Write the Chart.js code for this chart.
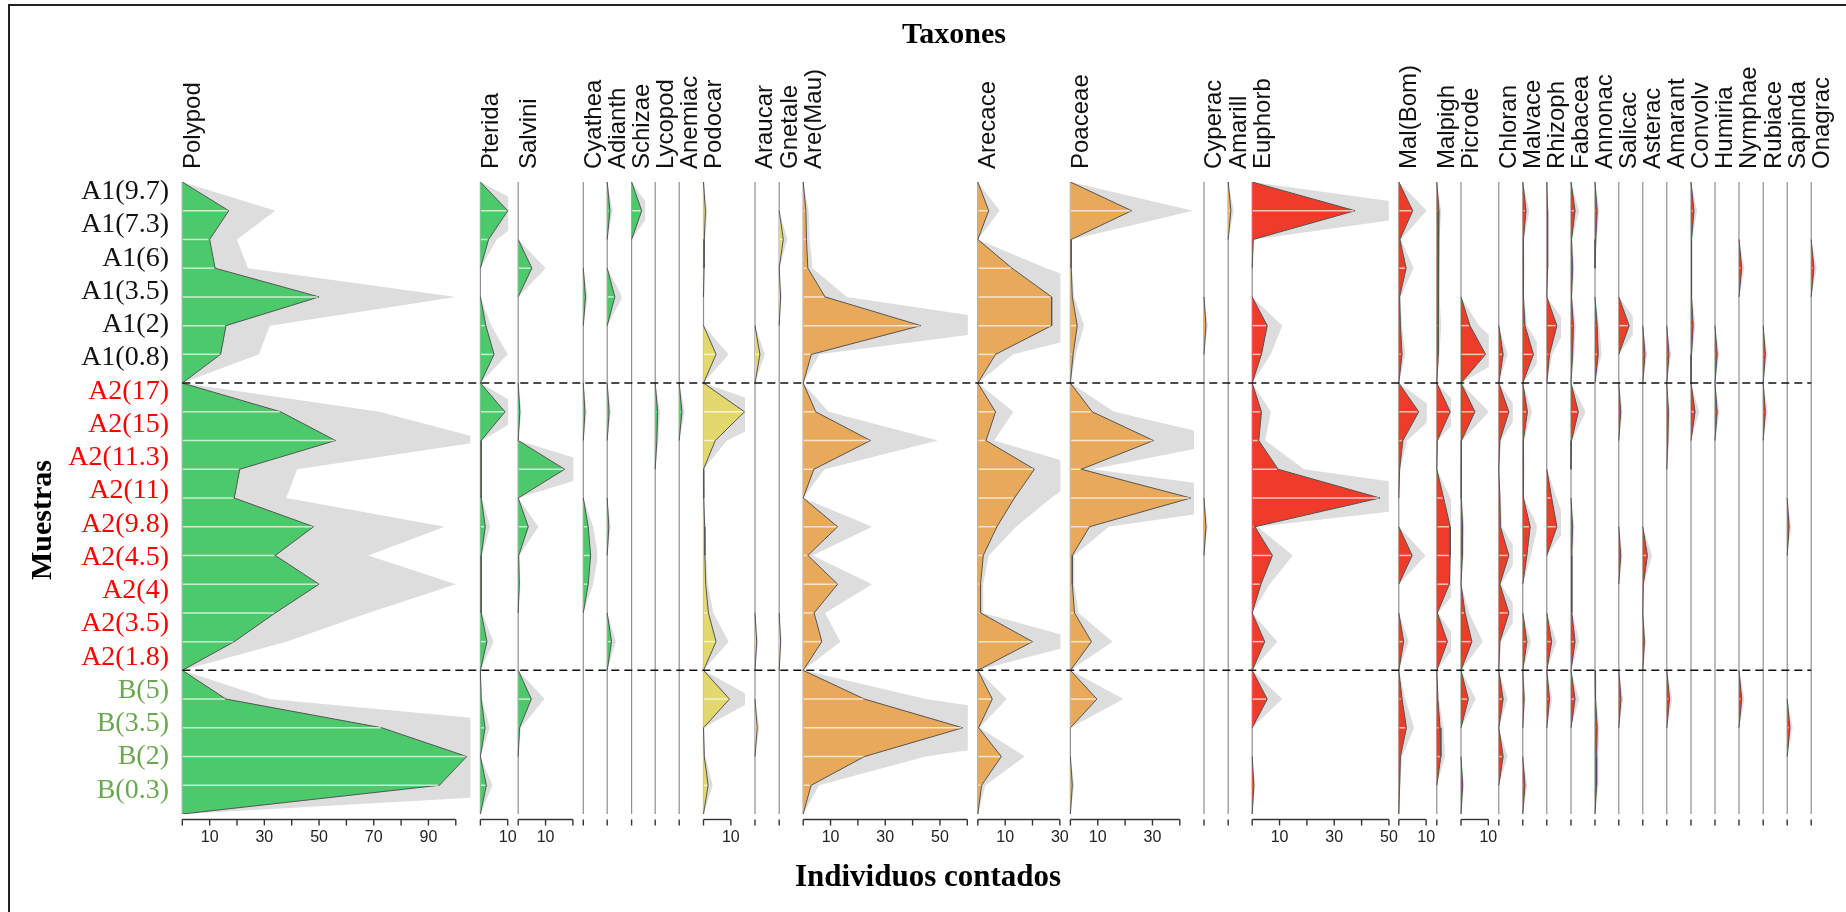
<!DOCTYPE html>
<html>
<head>
<meta charset="utf-8">
<script src="https://cdn.jsdelivr.net/npm/chart.js@4.4.1/dist/chart.umd.min.js"></script>
<style>
html,body{margin:0;padding:0;background:#ffffff;}
canvas{display:block;}
</style>
</head>
<body>
<canvas id="chart" width="1846" height="912"></canvas>
<script>
// ---------------- DATA ----------------
const samples = ['A1(9.7)','A1(7.3)','A1(6)','A1(3.5)','A1(2)','A1(0.8)',
  'A2(17)','A2(15)','A2(11.3)','A2(11)','A2(9.8)','A2(4.5)','A2(4)','A2(3.5)','A2(1.8)',
  'B(5)','B(3.5)','B(2)','B(0.3)'];
const sampleGroup = [0,0,0,0,0,0, 1,1,1,1,1,1,1,1,1, 2,2,2,2];

const taxa = ['Polypod','Pterida','Salvini','Cyathea','Adianth','Schizae','Lycopod','Anemiac',
  'Podocar','Araucar','Gnetale','Are(Mau)','Arecace','Poaceae','Cyperac','Amarill','Euphorb',
  'Mal(Bom)','Malpigh','Picrode','Chloran','Malvace','Rhizoph','Fabacea','Annonac','Salicac',
  'Asterac','Amarant','Convolv','Humiria','Nymphae','Rubiace','Sapinda','Onagrac'];
const taxonGroup = ['fern','fern','fern','fern','fern','fern','fern','fern',
  'gymno','gymno','gymno','mono','mono','mono','mono','mono',
  'dicot','dicot','dicot','dicot','dicot','dicot','dicot','dicot','dicot','dicot',
  'dicot','dicot','dicot','dicot','dicot','dicot','dicot','dicot'];
// axis extent (counts) shown under each column; 0 = only a zero tick
const axisMax = [100,10,20,0,0,0,0,0,10,0,0,60,30,40,0,0,50,10,0,10,0,0,0,0,0,0,0,0,0,0,0,0,0,0];

const polypod = [17,10,12,50,16,14, 36,56,21,19,48,34,50,34,19, 16,73,104,94];
const pterida = [10,3,0,0,2,5, 9,0.3,0.3,0.3,1.8,0.3,0.3,0.3,2.4, 0.3,1.7,0,2.2];
const salvini = [0,0,5,0,0,0, 0.6,0,17,0,3.7,0.2,0.4,0,0, 4.8,0.5,0,0];
const cyathea = [0,0,0,0.8,0,0, 0.6,0,0,0,1.8,2.7,1.8,0,0, 0,0,0,0];
const adianth = [1,0,0,2.8,0,0, 0.7,0,0,0,0.6,0,0,0,1.6, 0,0,0,0];
const schizae = [3.7,0,0,0,0,0, 0,0,0,0,0,0,0,0,0, 0,0,0,0];
const lycopod = [0,0,0,0,0,0, 0.9,0.6,0,0,0,0,0,0,0, 0,0,0,0];
const anemiac = [0,0,0,0,0,0, 1,0,0,0,0,0,0,0,0, 0,0,0,0];
const podocar = [0.7,0.3,0.2,0,0,4.6, 15,4.3,0,0.1,0.4,0.5,0.8,1.8,4.6, 9.5,0,0.3,1.7];
const araucar = [0,0,0,0,0,1.8, 0,0,0,0,0,0,0,0,0.6, 0,0.8,0,0];
const gnetale = [0,1.5,0,0.5,0,0, 0,0,0,0,0,0,0,0,0.5, 0,0,0,0];
const areMau  = [1,1.2,1.7,8,43,3, 4.6,24.6,3.9,0,12.6,1.7,12.6,4,6.8, 22.4,58.3,22.4,2.9];
const arecace = [4,0,12.5,27,27,6.5, 6.5,3,20.7,13.4,7,2,1,1,20, 5.3,0.3,8.6,1.4];
const poaceae = [22.4,0.3,0.3,0.7,2.5,1, 8,30.4,4,44,7,0.7,0.7,1.5,7.7, 9.7,0,0,0.7];
const cyperac = [0,0,0,0,0.7,0, 0,0,0,0,0.7,0,0,0,0, 0,0,0,0];
const amarill = [1,0,0,0,0,0, 0,0,0,0,0,0,0,0,0, 0,0,0,0];
const euphorb = [37.6,0.4,0,0,5.5,3.4, 3.4,2.4,9.5,46.7,1,7.4,3.2,0,4.6, 5.5,0,0,0.6];
const malBom  = [5.1,0.4,2.7,0.3,0.6,1.2, 7.3,1.5,0.3,0,0,4.9,0,0,1.8, 1.2,2.8,0.6,0.3];
const malpigh = [0.8,0.5,0.5,0.5,0.8,0.5, 4.9,0.2,0,2.5,4.9,4.9,4.6,0.2,3.9, 0.4,1.2,1.5,0];
const picrode = [0,0,0,0,3.3,9, 5.1,0.2,0,0.2,0.6,0.5,0,1.5,4, 2.7,0,0,0.6];
const chloran = [0,0,0,0,0,1.6, 3.7,0.4,0,0.4,0.6,3.7,0.4,3.7,0.4, 1.6,0,1.6,0];
const malvace = [1.2,0.2,0.3,0.2,0.8,3.9, 1.7,0.2,0.3,0.2,2.7,1.5,0,0,1.5, 0.5,0,0,0.8];
const rhizoph = [0.3,0.3,0.3,0,3.7,1, 0,0,0,1.8,3.7,0,0,0,1.8, 1,0,0,0];
const fabacea = [1.5,0.2,0.6,0.2,0.9,0.6, 2.7,0.2,0,0,0.6,0.3,0.3,0.3,1.5, 1.5,0,0,0];
const annonac = [0.8,0.3,0,0,0.8,1.2, 0,0,0,0,0,0,0,0,0, 0.2,0.8,0.6,0.6];
const salicac = [0,0,0,0,3.8,0, 0.7,0,0,0,0,0.7,0,0,0, 0.8,0,0,0];
const asterac = [0,0,0,0,0,0.8, 0,0,0,0,0,1.7,0.2,0,0.6, 0,0,0,0];
const amarant = [0,0,0,0,0,0.8, 0.6,0.4,0,0,0,0,0,0,0, 1,0,0,0];
const convolv = [1.1,0.2,0.2,0.2,0.8,0.2, 1.5,0,0,0,0,0,0,0,0, 0,0,0,0];
const humiria = [0,0,0,0,0,0.8, 0.8,0,0,0,0,0,0,0,0, 0,0,0,0];
const nymphae = [0,0,1,0,0,0, 0,0,0,0,0,0,0,0,0, 1,0,0,0];
const rubiace = [0,0,0,0,0,0.8, 0.8,0,0,0,0,0,0,0,0, 0,0,0,0];
const sapinda = [0,0,0,0,0,0, 0,0,0,0,0.7,0,0,0,0, 0,1,0,0];
const onagrac = [0,0,1,0,0,0, 0,0,0,0,0,0,0,0,0, 0,0,0,0];

const counts = [polypod,pterida,salvini,cyathea,adianth,schizae,lycopod,anemiac,
  podocar,araucar,gnetale,areMau,arecace,poaceae,cyperac,amarill,euphorb,
  malBom,malpigh,picrode,chloran,malvace,rhizoph,fabacea,annonac,salicac,
  asterac,amarant,convolv,humiria,nymphae,rubiace,sapinda,onagrac];

// ---------------- LAYOUT / STYLE ----------------
const W = 1846, H = 912;
const PLOT = {left: 182, right: 1823, top: 182, bottom: 814};
const PX_PER_COUNT = 2.735;   // horizontal scale shared by every column
const EXAG = 2;               // grey exaggeration factor
const COL_X = [182.3,480.4,518.2,583.3,607.2,631.6,655.2,679.2,703.5,755,779.2,803.2,977.8,1070.4,
  1204,1228.2,1252.2,1398.8,1436.8,1461,1498.8,1522.8,1546.8,1571,1595,1618.8,1642.8,1666.8,
  1691,1715,1739,1763.2,1787.2,1811.2];
const GROUP_COLORS = ['#111111','#ff0000','#6aa84f'];
const FILL = {fern:'#4cc96b', gymno:'#e2d86c', mono:'#e9a95b', dicot:'#ee3b2a'};
const SERIF = '"Liberation Serif","Times New Roman",serif';
const SANS = '"Liberation Sans",Arial,sans-serif';

// depth slots: each group separated by an empty slot
function depthOf(i){ return i + 1 + sampleGroup[i]; }
const nGroups = Math.max(...sampleGroup) + 1;
function groupBounds(g){
  const idx = [];
  sampleGroup.forEach((v,i)=>{ if (v===g) idx.push(i); });
  return [idx[0] + g, idx[idx.length-1] + 2 + g];
}
const Y_MAX = groupBounds(nGroups-1)[1];

function polygon(values){
  const pts = [];
  for (let g = 0; g < nGroups; g++){
    const [s,e] = groupBounds(g);
    pts.push({x:0, y:s});
    values.forEach((v,i)=>{ if (sampleGroup[i]===g) pts.push({x:v, y:depthOf(i), s:1}); });
    pts.push({x:0, y:e});
  }
  return pts;
}

// ---------------- SCALES ----------------
const scales = {
  y: {type:'linear', min:0, max:Y_MAX, reverse:true, display:false},
  ylab: {
    type:'category', labels: samples, position:'left', offset:true,
    grid:{display:false}, border:{display:false},
    ticks:{autoSkip:false, padding:5, labelOffset:-7,
      font:{family:SERIF, size:28},
      color:(c)=>GROUP_COLORS[sampleGroup[c.index]]},
    afterFit:(s)=>{ s.width = PLOT.left; }
  }
};
taxa.forEach((t,i)=>{
  const lo = (PLOT.left - COL_X[i]) / PX_PER_COUNT;
  const hi = (PLOT.right - COL_X[i]) / PX_PER_COUNT;
  scales['x'+i] = {type:'linear', axis:'x', position:'bottom', display:false, min:lo, max:hi};
  scales['e'+i] = {type:'linear', axis:'x', position:'bottom', display:false, min:lo/EXAG, max:hi/EXAG};
});

// ---------------- DATASETS ----------------
const datasets = [];
taxa.forEach((t,i)=>{
  const clipRight = i < taxa.length-1 ? COL_X[i+1] - 10 : PLOT.right;
  datasets.push({
    label: t + ' x' + EXAG, data: polygon(counts[i]), xAxisID:'e'+i, yAxisID:'y',
    order:2, fill:'shape', backgroundColor:'#dddddd', borderWidth:0, pointRadius:0, tension:0,
    clipRight: clipRight
  });
  datasets.push({
    label: t, data: polygon(counts[i]), xAxisID:'x'+i, yAxisID:'y',
    order:1, fill:'shape', backgroundColor: FILL[taxonGroup[i]],
    borderColor:'#555555', borderWidth:1, pointRadius:0, tension:0, role:'main',
    segment:{borderColor:(c)=> (c.p0.parsed.x===0 && c.p1.parsed.x===0) ? 'rgba(0,0,0,0)' : undefined}
  });
});

// ---------------- PLUGINS ----------------
const colClip = {
  id:'colClip',
  beforeDatasetDraw(chart, args){
    const ds = chart.data.datasets[args.index];
    if (ds.clipRight == null) return;
    const a = chart.chartArea, ctx = chart.ctx;
    ctx.save();
    ctx.beginPath();
    ctx.rect(a.left, a.top, ds.clipRight - a.left, a.bottom - a.top);
    ctx.clip();
  },
  afterDatasetDraw(chart, args){
    const ds = chart.data.datasets[args.index];
    if (ds.clipRight == null) return;
    chart.ctx.restore();
  }
};
try {
  const filler = Chart.registry.getPlugin('filler');
  Chart.unregister(filler);
  Chart.register(colClip);
  Chart.register(filler);
} catch(e) { Chart.register(colClip); }

const decor = {
  id:'decor',
  beforeDatasetsDraw(chart){
    const ctx = chart.ctx, ys = chart.scales.y;
    const top = ys.getPixelForValue(0), bot = ys.getPixelForValue(Y_MAX);
    ctx.save();
    ctx.strokeStyle = '#909090'; ctx.lineWidth = 1.2;
    taxa.forEach((t,i)=>{
      const x = chart.scales['x'+i].getPixelForValue(0);
      ctx.beginPath(); ctx.moveTo(x, top); ctx.lineTo(x, bot); ctx.stroke();
    });
    ctx.restore();
  },
  afterDatasetDraw(chart, args){
    const ds = chart.data.datasets[args.index];
    if (ds.role !== 'main') return;
    const meta = args.meta, ctx = chart.ctx;
    const x0 = meta.xScale.getPixelForValue(0);
    ctx.save();
    ctx.strokeStyle = 'rgba(255,255,255,0.7)'; ctx.lineWidth = 1.5;
    meta.data.forEach((pt,j)=>{
      const raw = ds.data[j];
      if (!raw.s || raw.x <= 0) return;
      const xe = pt.x - 1.2;
      if (xe <= x0 + 0.8) return;
      ctx.beginPath(); ctx.moveTo(x0 + 0.6, pt.y); ctx.lineTo(xe, pt.y); ctx.stroke();
    });
    ctx.restore();
  },
  afterDatasetsDraw(chart){
    const ctx = chart.ctx, ys = chart.scales.y;
    const xa = chart.scales['x0'].getPixelForValue(0);
    const xb = chart.scales['x'+(taxa.length-1)].getPixelForValue(0);
    ctx.save();
    ctx.strokeStyle = '#111'; ctx.lineWidth = 1.5; ctx.setLineDash([8,5]);
    for (let g = 0; g < nGroups-1; g++){
      const y = ys.getPixelForValue(groupBounds(g)[1]);
      ctx.beginPath(); ctx.moveTo(xa, y); ctx.lineTo(xb, y); ctx.stroke();
    }
    ctx.restore();
  },
  afterDraw(chart){
    const ctx = chart.ctx;
    const axisY = chart.chartArea.bottom + 5.5, tickLen = 6;
    ctx.save();
    // bottom count axes
    ctx.strokeStyle = '#333'; ctx.lineWidth = 1.4;
    ctx.fillStyle = '#222'; ctx.font = '16px ' + SANS;
    ctx.textAlign = 'center'; ctx.textBaseline = 'middle';
    taxa.forEach((t,i)=>{
      const sc = chart.scales['x'+i];
      const m = axisMax[i];
      const p0 = sc.getPixelForValue(0);
      if (m > 0){
        ctx.beginPath(); ctx.moveTo(p0, axisY); ctx.lineTo(sc.getPixelForValue(m), axisY); ctx.stroke();
      }
      for (let v = 0; v <= m; v += 10){
        const p = sc.getPixelForValue(v);
        ctx.beginPath(); ctx.moveTo(p, axisY); ctx.lineTo(p, axisY + tickLen); ctx.stroke();
        if ((v/10) % 2 === 1) ctx.fillText(String(v), p, axisY + 18);
      }
    });
    // taxon names
    ctx.fillStyle = '#111'; ctx.font = '24px ' + SANS;
    ctx.textAlign = 'left'; ctx.textBaseline = 'alphabetic';
    taxa.forEach((t,i)=>{
      const x = chart.scales['x'+i].getPixelForValue(0);
      ctx.save(); ctx.translate(x + 17.3, chart.chartArea.top - 13); ctx.rotate(-Math.PI/2);
      ctx.fillText(t, 0, 0); ctx.restore();
    });
    // titles
    ctx.fillStyle = '#000';
    ctx.textAlign = 'center';
    ctx.font = 'bold 30px ' + SERIF;
    ctx.fillText('Taxones', 954, 43);
    ctx.font = 'bold 31px ' + SERIF;
    ctx.fillText('Individuos contados', 928, 886);
    ctx.save(); ctx.translate(50.5, 520); ctx.rotate(-Math.PI/2);
    ctx.font = 'bold 30px ' + SERIF; ctx.fillText('Muestras', 0, 0); ctx.restore();
    // frame
    ctx.strokeStyle = '#222'; ctx.lineWidth = 2;
    ctx.beginPath(); ctx.moveTo(9, H); ctx.lineTo(9, 5); ctx.lineTo(W, 5); ctx.stroke();
    ctx.restore();
  }
};

new Chart(document.getElementById('chart'), {
  type:'line',
  data:{datasets},
  options:{
    responsive:false, animation:false, devicePixelRatio:1, events:[],
    layout:{padding:{left:0, top:PLOT.top, right:W-PLOT.right, bottom:H-PLOT.bottom}},
    plugins:{legend:{display:false}, tooltip:{enabled:false}, title:{display:false}},
    scales
  },
  plugins:[decor]
});
</script>
</body>
</html>
